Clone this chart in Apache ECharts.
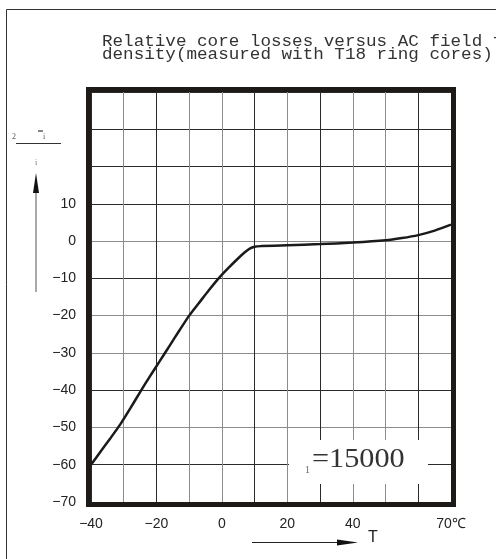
<!DOCTYPE html>
<html>
<head>
<meta charset="utf-8">
<script src="https://cdn.jsdelivr.net/npm/echarts@6/dist/echarts.min.js"></script>
<style>
  html, body { margin: 0; padding: 0; background: #fff; }
  #chart { width: 496px; height: 559px; }
</style>
</head>
<body>
<div id="chart"></div>
<script>
// Temperature (°C) and relative change of core losses (%)
const temperatures = [-40, -37, -34, -31, -28, -25, -22, -19, -16, -13, -10, -7, -4, -1, 2, 5, 7, 8.5, 10, 12, 20, 30, 40, 50, 55, 60, 65, 70];
const lossChange  = [-60, -56.4, -52.8, -49.1, -44.9, -40.5, -36.3, -32.2, -28.1, -24, -20, -16.6, -13.2, -10, -7.2, -4.6, -3, -2, -1.5, -1.35, -1.1, -0.8, -0.4, 0.2, 0.8, 1.6, 2.8, 4.4];

const xTickLabels = { '-40': '−40', '-20': '−20', '0': '0', '20': '20', '40': '40', '70': '70℃' };
const yTickLabels = [10, 0, -10, -20, -30, -40, -50, -60, -70];

const titleLines = [
  'Relative core losses versus AC field flux',
  'density(measured with T18 ring cores)'
];
const permeabilityText = '=15000';

const G = { left: 91, right: 45, top: 92, bottom: 57 };
const W = 496, H = 559;
const plotW = W - G.left - G.right, plotH = H - G.top - G.bottom;

const DARK = '#2a2a2a', GRAY = '#8c8c8c';

const chart = echarts.init(document.getElementById('chart'), null, { renderer: 'canvas' });

const serif = '"Liberation Serif", "DejaVu Serif", serif';
const sans = '"Liberation Sans", Arial, sans-serif';

chart.setOption({
  animation: false,
  backgroundColor: '#fff',
  grid: { left: G.left, right: G.right, top: G.top, bottom: G.bottom },
  xAxis: {
    type: 'value', min: -40, max: 70, interval: 10,
    axisLine: { show: false }, axisTick: { show: false },
    axisLabel: {
      margin: 15, fontFamily: sans, fontSize: 14, color: '#222',
      formatter: v => xTickLabels[String(v)] || ''
    },
    splitLine: {
      show: true,
      lineStyle: { width: 1, color: [DARK, GRAY, DARK, GRAY, GRAY, DARK, GRAY, DARK, GRAY, GRAY, DARK, DARK] }
    }
  },
  yAxis: {
    type: 'value', min: -70, max: 40, interval: 10,
    axisLine: { show: false }, axisTick: { show: false },
    axisLabel: {
      margin: 15, fontFamily: sans, fontSize: 14, color: '#222',
      formatter: v => yTickLabels.includes(v) ? String(v).replace('-', '−') : ''
    },
    splitLine: {
      show: true,
      lineStyle: { width: 1, color: [DARK, DARK, GRAY, DARK, GRAY, GRAY, DARK, GRAY, DARK, DARK, DARK, DARK] }
    }
  },
  series: [{
    type: 'line',
    data: temperatures.map((t, i) => [t, lossChange[i]]),
    showSymbol: false,
    smooth: 0.25,
    lineStyle: { color: '#1a1a1a', width: 2.5 },
    z: 3
  }],
  graphic: [
    // outer figure border
    { type: 'polyline', silent: true, shape: { points: [[6.5, H], [6.5, 9.5], [W, 9.5]] },
      style: { stroke: '#333', lineWidth: 1, fill: null } },
    // title
    { type: 'text', x: 102, y: 42, scaleX: 1.1, style: { text: titleLines[0], font: '16px "Liberation Mono", monospace', fill: '#333', verticalAlign: 'middle' } },
    { type: 'text', x: 102, y: 55, scaleX: 1.1, style: { text: titleLines[1], font: '16px "Liberation Mono", monospace', fill: '#333', verticalAlign: 'middle' } },
    // thick plot frame
    { type: 'rect', silent: true, z: 10,
      shape: { x: G.left - 2.5, y: G.top - 2.5, width: plotW + 5, height: plotH + 5 },
      style: { fill: null, stroke: '#1e1a17', lineWidth: 5 } },
    // permeability label box
    { type: 'rect', silent: true, z: 5, shape: { x: 289, y: 440, width: 139, height: 44 }, style: { fill: '#fff' } },
    { type: 'text', z: 6, x: 305, y: 470, style: { text: '1', font: '10px ' + serif, fill: '#666', verticalAlign: 'middle' } },
    { type: 'text', z: 6, x: 312, y: 460, scaleX: 1.08, style: { text: permeabilityText, font: '28px ' + serif, fill: '#333', verticalAlign: 'middle' } },
    // vertical axis caption marks
    { type: 'text', x: 12, y: 137, style: { text: '2', font: '8px ' + serif, fill: '#555', verticalAlign: 'middle' } },
    { type: 'line', shape: { x1: 38, y1: 131, x2: 43, y2: 131 }, style: { stroke: '#333', lineWidth: 1.2 } },
    { type: 'text', x: 43, y: 137, style: { text: 'i', font: '8px ' + serif, fill: '#555', verticalAlign: 'middle' } },
    { type: 'line', shape: { x1: 16, y1: 143.5, x2: 61, y2: 143.5 }, style: { stroke: '#333', lineWidth: 1 } },
    { type: 'text', x: 35, y: 163, style: { text: 'i', font: '8px ' + serif, fill: '#777', verticalAlign: 'middle' } },
    { type: 'line', shape: { x1: 36, y1: 292, x2: 36, y2: 190 }, style: { stroke: '#555', lineWidth: 1 } },
    { type: 'polygon', shape: { points: [[36, 173], [33, 193], [39, 193]] }, style: { fill: '#111' } },
    // horizontal axis caption arrow
    { type: 'line', shape: { x1: 252, y1: 542.5, x2: 340, y2: 542.5 }, style: { stroke: '#222', lineWidth: 1 } },
    { type: 'polygon', shape: { points: [[358, 542.5], [337, 539.5], [337, 545.5]] }, style: { fill: '#111' } },
    { type: 'text', x: 368, y: 538, style: { text: 'T', font: '16px ' + sans, fill: '#222', verticalAlign: 'middle' } }
  ]
});
</script>
</body>
</html>
